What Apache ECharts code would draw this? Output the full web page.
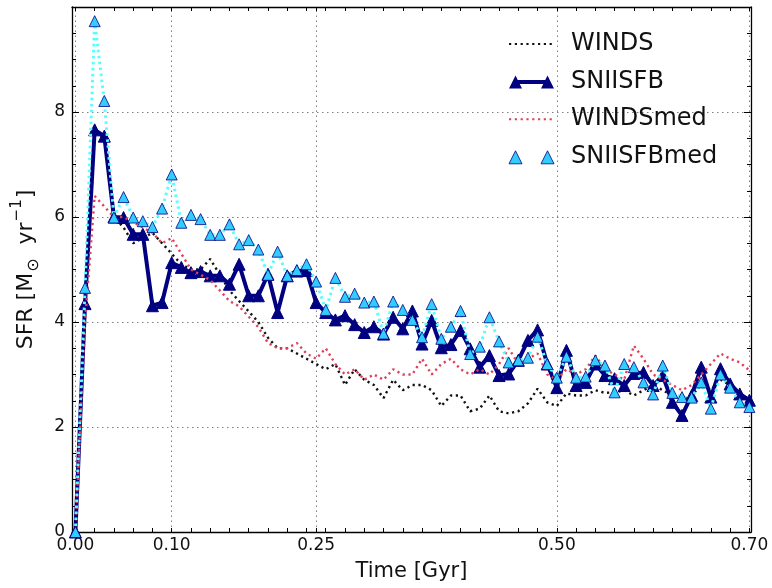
<!DOCTYPE html>
<html>
<head>
<meta charset="utf-8">
<script src="https://cdn.jsdelivr.net/npm/echarts@6/dist/echarts.min.js"></script>
<style>
html,body{margin:0;padding:0;background:#fff;}
#chart{width:772px;height:588px;}
</style>
</head>
<body>
<div id="chart"></div>
<script>
// ---- data ----
const times = [0.00,0.01,0.02,0.03,0.04,0.05,0.06,0.07,0.08,0.09,0.10,0.11,0.12,0.13,0.14,0.15,0.16,0.17,0.18,0.19,0.20,0.21,0.22,0.23,0.24,0.25,0.26,0.27,0.28,0.29,0.30,0.31,0.32,0.33,0.34,0.35,0.36,0.37,0.38,0.39,0.40,0.41,0.42,0.43,0.44,0.45,0.46,0.47,0.48,0.49,0.50,0.51,0.52,0.53,0.54,0.55,0.56,0.57,0.58,0.59,0.60,0.61,0.62,0.63,0.64,0.65,0.66,0.67,0.68,0.69,0.70];

const winds = [0,4.3,7.6,7.5,6.0,5.8,5.5,5.6,5.7,5.5,5.3,5.1,5.0,5.0,5.2,4.9,4.6,4.4,4.2,4.0,3.7,3.5,3.5,3.4,3.3,3.2,3.1,3.2,2.8,3.1,2.9,2.8,2.55,2.9,2.7,2.8,2.8,2.7,2.4,2.6,2.6,2.3,2.35,2.6,2.3,2.26,2.3,2.45,2.73,2.47,2.4,2.64,2.6,2.6,2.7,2.65,2.66,2.7,2.6,2.7,2.8,2.7,2.6,2.5,2.6,2.8,2.7,2.9,2.8,2.6,2.5];

const sniisfb = [0,4.35,7.66,7.54,6.00,5.99,5.67,5.67,4.31,4.37,5.13,5.04,4.94,4.96,4.88,4.88,4.72,5.10,4.50,4.50,4.91,4.18,4.88,4.97,4.98,4.37,4.18,4.04,4.12,3.95,3.80,3.91,3.77,4.09,3.87,4.21,3.58,4.03,3.51,3.57,3.84,3.49,3.14,3.36,2.98,3.01,3.27,3.65,3.85,3.20,2.75,3.46,2.79,2.85,3.20,2.98,2.92,2.79,3.02,3.04,2.79,2.98,2.47,2.22,2.60,3.14,2.57,3.11,2.82,2.63,2.51];

const windsMed = [0,4.0,6.4,6.2,6.0,6.0,5.9,5.8,5.7,5.5,5.6,5.3,5.0,4.9,4.8,4.6,4.4,4.3,4.1,3.9,3.6,3.5,3.5,3.6,3.4,3.3,3.5,3.2,3.0,3.1,2.9,3.0,2.9,3.1,3.0,3.0,3.3,3.0,3.2,3.3,3.1,3.0,3.1,3.0,3.2,3.5,3.2,3.3,3.4,3.0,2.9,3.1,3.0,3.1,3.36,3.1,3.0,2.9,3.55,3.3,3.0,2.9,2.8,2.7,2.8,3.0,3.2,3.4,3.3,3.23,3.08];

const sniisfbMed = [0,4.65,9.73,8.21,5.99,6.38,5.99,5.92,5.81,6.16,6.81,5.89,6.04,5.96,5.66,5.66,5.86,5.48,5.56,5.38,4.90,5.34,4.88,4.99,5.10,4.77,4.23,4.84,4.48,4.54,4.37,4.39,3.78,4.39,4.23,4.04,3.71,4.34,3.68,3.91,4.21,3.39,3.53,4.09,3.63,3.23,3.27,3.32,3.72,3.20,2.94,3.34,2.94,2.96,3.27,3.17,2.66,3.20,3.14,2.85,2.62,3.17,2.65,2.57,2.56,2.85,2.35,3.00,2.75,2.47,2.38];

const xMajorTicks = [0.00, 0.10, 0.25, 0.50, 0.70];
const xMinorTicks = [0.02,0.04,0.06,0.08,0.12,0.14,0.16,0.18,0.20,0.22,0.24,0.26,0.28,0.30,0.32,0.34,0.36,0.38,0.40,0.42,0.44,0.46,0.48,0.52,0.54,0.56,0.58,0.60,0.62,0.64,0.66,0.68];
const yTicks = [0, 2, 4, 6, 8];

const seriesNames = ['WINDS', 'SNIISFB', 'WINDSmed', 'SNIISFBmed'];

// ---- chart ----
const X_MIN = -0.00355, X_MAX = 0.70168;
const FONT = 'DejaVu Sans';
const NAVY = '#000080';
const pair = (vals) => times.map((t, i) => [t, vals[i]]);
const allXTicks = xMajorTicks.concat(xMinorTicks).sort((a, b) => a - b);
const gridLineStyle = { color: '#808080', width: 1, type: [1.5, 3.5] };

function xAxisDef(pos, showLabel) {
  return {
    type: 'value', position: pos, min: X_MIN, max: X_MAX,
    axisLine: { show: true, onZero: false, lineStyle: { color: '#000', width: 1.3 } },
    axisTick: { show: true, inside: true, length: 4, customValues: allXTicks, lineStyle: { color: '#000', width: 1 } },
    axisLabel: showLabel ? {
      show: true, customValues: xMajorTicks, formatter: v => v.toFixed(2),
      fontSize: 17, fontFamily: FONT, color: '#111', margin: 5,
      showMinLabel: true, showMaxLabel: true
    } : { show: false },
    splitLine: { show: false },
    name: showLabel ? 'Time [Gyr]' : '',
    nameLocation: 'middle', nameGap: 29,
    nameTextStyle: { fontSize: 21, fontFamily: FONT, color: '#111' }
  };
}
function yAxisDef(pos, showLabel) {
  return {
    type: 'value', position: pos, min: 0, max: 10, interval: 2,
    axisLine: { show: true, onZero: false, lineStyle: { color: '#000', width: 1.3 } },
    axisTick: { show: true, inside: true, length: 7, lineStyle: { color: '#000', width: 1 } },
    minorTick: { show: true, splitNumber: 4, length: 4, lineStyle: { color: '#000', width: 1 } },
    axisLabel: showLabel ? {
      show: true, fontSize: 17, fontFamily: FONT, color: '#111', margin: 7,
      formatter: v => (yTicks.indexOf(v) >= 0 ? String(v) : '')
    } : { show: false },
    splitLine: showLabel ? { show: true, lineStyle: gridLineStyle } : { show: false },
    name: showLabel ? '{a|SFR [M}{s|\u2299}{a|  yr}{p|\u22121}{a|]}' : '',
    nameLocation: 'middle', nameGap: 30, nameRotate: 90,
    nameTextStyle: {
      fontFamily: FONT, color: '#111',
      rich: {
        a: { fontSize: 22, fontFamily: FONT, color: '#111', lineHeight: 32, verticalAlign: 'middle' },
        s: { fontSize: 16, fontFamily: FONT, color: '#111', lineHeight: 16, verticalAlign: 'bottom', padding: [0, 0, 0, 1] },
        p: { fontSize: 15, fontFamily: FONT, color: '#111', lineHeight: 15, verticalAlign: 'top', padding: [0, 1, 0, 1] }
      }
    }
  };
}

// legend icons (drawn in a 45x14 box)
const triLineIcon = 'path://M0,14 L6.5,1 L13,14 Z M32,14 L38.5,1 L45,14 Z M6,5.5 L39,5.5 L39,9.5 L6,9.5 Z M0,0 L0.01,0 Z';
const twoTriIcon = 'path://M0,14 L6.5,1 L13,14 Z M32,14 L38.5,1 L45,14 Z M0,0 L0.01,0 Z';

const chart = echarts.init(document.getElementById('chart'), null, { renderer: 'canvas' });
chart.setOption({
  animation: false,
  backgroundColor: '#fff',
  grid: { left: 72, right: 21, top: 7, bottom: 56, containLabel: false },
  xAxis: [xAxisDef('bottom', true), xAxisDef('top', false)],
  yAxis: [yAxisDef('left', true), yAxisDef('right', false)],
  legend: {
    show: true, orient: 'vertical', left: 503, top: 25,
    itemWidth: 45, itemHeight: 14, itemGap: 9.6,
    symbolKeepAspect: false,
    textStyle: { fontSize: 24, fontFamily: FONT, color: '#111', lineHeight: 28, padding: [0, 0, 0, 12] },
    data: [
      { name: seriesNames[0], itemStyle: { color: 'rgba(0,0,0,0)', borderWidth: 0 } },
      { name: seriesNames[1], icon: triLineIcon, itemStyle: { color: NAVY, borderWidth: 0 } },
      { name: seriesNames[2], itemStyle: { color: 'rgba(0,0,0,0)', borderWidth: 0 } },
      { name: seriesNames[3], icon: twoTriIcon, itemStyle: { color: '#33ccff', borderColor: NAVY, borderWidth: 0.8 } }
    ]
  },
  series: [
    {
      name: seriesNames[0], type: 'line', data: pair(winds),
      showSymbol: false, symbol: 'none', z: 2,
      lineStyle: { color: '#111', width: 2.4, type: [2.2, 3.6], cap: 'butt' },
      itemStyle: { color: '#111' },
      markLine: {
        silent: true, symbol: ['none', 'none'], label: { show: false },
        lineStyle: gridLineStyle, z: 0,
        data: xMajorTicks.map(v => ({ xAxis: v }))
      }
    },
    {
      name: seriesNames[1], type: 'line', data: pair(sniisfb),
      symbol: 'triangle', symbolSize: 12, z: 3,
      lineStyle: { color: NAVY, width: 4 },
      itemStyle: { color: NAVY, borderColor: NAVY, borderWidth: 1 }
    },
    {
      name: seriesNames[2], type: 'line', data: pair(windsMed),
      showSymbol: false, symbol: 'none', z: 4,
      lineStyle: { color: '#e0405a', width: 2.4, type: [2.2, 3.6], cap: 'butt' },
      itemStyle: { color: '#e0405a' }
    },
    {
      name: seriesNames[3], type: 'line', data: pair(sniisfbMed),
      symbol: 'triangle', symbolSize: 11, z: 5,
      lineStyle: { color: '#55ffff', width: 3, type: [2.5, 3.5], cap: 'butt' },
      itemStyle: { color: '#33ccff', borderColor: NAVY, borderWidth: 0.8 }
    }
  ]
});
</script>
</body>
</html>
